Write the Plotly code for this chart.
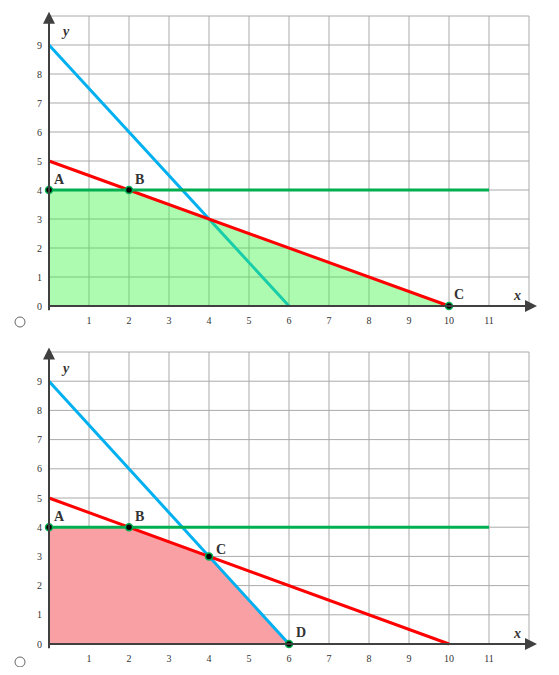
import plotly.graph_objects as go

# -------------------------------------------------------------------
# DATA
# -------------------------------------------------------------------
blue_x = [0, 6]
blue_y = [9, 0]
red_x = [0, 10]
red_y = [5, 0]
green_x = [0, 11]
green_y = [4, 4]

top_region_x = [0, 0, 2, 10, 0]
top_region_y = [0, 4, 4, 0, 0]
top_pts_x = [0, 2, 10]
top_pts_y = [4, 4, 0]
top_pts_lbl = ["A", "B", "C"]

bot_region_x = [0, 0, 2, 4, 6, 0]
bot_region_y = [0, 4, 4, 3, 0, 0]
bot_pts_x = [0, 2, 4, 6]
bot_pts_y = [4, 4, 3, 0]
bot_pts_lbl = ["A", "B", "C", "D"]

x_ticks = list(range(1, 12))
y_ticks = list(range(0, 10))

# -------------------------------------------------------------------
# STYLE
# -------------------------------------------------------------------
# page body has an 8px margin, so the figure is a bit smaller than the window
W, H = 543, 659
BLUE = "#00b0f0"
RED = "#ff0000"
GREEN = "#00b050"
GRID = "#aaaaaa"
AXIS = "#404040"
SERIF = "Liberation Serif"

fig = go.Figure()
shapes = []
annotations = []


def add_panel(xa, ya, region_x, region_y, fill, fill_on_top, pts_x, pts_y, labels, lbl_off):
    xr, yr = xa, ya
    # grid
    for i in range(0, 13):
        shapes.append(dict(type="line", xref=xr, yref=yr, x0=i, x1=i, y0=0, y1=10,
                           line=dict(color=GRID, width=1), layer="below"))
    for j in range(0, 11):
        shapes.append(dict(type="line", xref=xr, yref=yr, x0=0, x1=12, y0=j, y1=j,
                           line=dict(color=GRID, width=1), layer="below"))

    region = go.Scatter(x=region_x, y=region_y, xaxis=xa, yaxis=ya, mode="lines",
                        fill="toself", fillcolor=fill, line=dict(width=0),
                        hoverinfo="skip", showlegend=False)
    if not fill_on_top:
        fig.add_trace(region)
    fig.add_trace(go.Scatter(x=blue_x, y=blue_y, xaxis=xa, yaxis=ya, mode="lines",
                             line=dict(color=BLUE, width=3), showlegend=False))
    if fill_on_top:
        fig.add_trace(region)
    fig.add_trace(go.Scatter(x=red_x, y=red_y, xaxis=xa, yaxis=ya, mode="lines",
                             line=dict(color=RED, width=3), showlegend=False))
    fig.add_trace(go.Scatter(x=green_x, y=green_y, xaxis=xa, yaxis=ya, mode="lines",
                             line=dict(color=GREEN, width=3), showlegend=False))

    # axes with arrows
    annotations.append(dict(x=12.2, y=0, ax=-0.02, ay=0, xref=xr, yref=yr, axref=xr, ayref=yr,
                            text="", showarrow=True, arrowhead=2, arrowsize=1.2,
                            arrowwidth=2, arrowcolor=AXIS))
    annotations.append(dict(x=0, y=10.15, ax=0, ay=-0.2, xref=xr, yref=yr, axref=xr, ayref=yr,
                            text="", showarrow=True, arrowhead=2, arrowsize=1.2,
                            arrowwidth=2, arrowcolor=AXIS))

    fig.add_trace(go.Scatter(x=pts_x, y=pts_y, xaxis=xa, yaxis=ya, mode="markers",
                             marker=dict(color="black", size=7, line=dict(color=GREEN, width=1.5)),
                             cliponaxis=False, showlegend=False))

    for px, py, lb, (dx, dy) in zip(pts_x, pts_y, labels, lbl_off):
        annotations.append(dict(x=px + dx, y=py + dy, xref=xr, yref=yr, text=f"<b>{lb}</b>",
                                showarrow=False, font=dict(family=SERIF, size=14, color="#333333")))
    annotations.append(dict(x=0.42, y=9.45, xref=xr, yref=yr, text="<b><i>y</i></b>",
                            showarrow=False, font=dict(family=SERIF, size=14, color="#333333")))
    annotations.append(dict(x=11.7, y=0.35, xref=xr, yref=yr, text="<b><i>x</i></b>",
                            showarrow=False, font=dict(family=SERIF, size=14, color="#333333")))


add_panel("x", "y", top_region_x, top_region_y, "rgba(60,245,70,0.42)", True,
          top_pts_x, top_pts_y, top_pts_lbl, [(0.25, 0.35), (0.25, 0.35), (0.25, 0.4)])
add_panel("x2", "y2", bot_region_x, bot_region_y, "#f9a0a5", False,
          bot_pts_x, bot_pts_y, bot_pts_lbl, [(0.25, 0.35), (0.25, 0.35), (0.3, 0.25), (0.3, 0.4)])

# radio buttons
for cy in [314, 654]:
    shapes.append(dict(type="circle", xref="paper", yref="paper",
                       x0=7 / W, x1=17 / W, y0=(H - cy - 5) / H, y1=(H - cy + 5) / H,
                       line=dict(color="#666666", width=1), fillcolor="white"))

tick_font = dict(family=SERIF, size=10, color="#333333")
x_common = dict(range=[-0.15, 12.3], domain=[35 / W, 533 / W], tickvals=x_ticks,
                showgrid=False, zeroline=False, showline=False, ticks="",
                tickfont=tick_font, fixedrange=True)
y_common = dict(range=[-0.25, 10.25], tickvals=y_ticks, showgrid=False, zeroline=False,
                showline=False, ticks="", tickfont=tick_font, fixedrange=True)

fig.update_layout(
    width=W,
    height=H,
    margin=dict(l=0, r=0, t=0, b=0),
    plot_bgcolor="white",
    paper_bgcolor="white",
    showlegend=False,
    xaxis=dict(**x_common, anchor="y"),
    yaxis=dict(**y_common, domain=[353.75 / H, 658.25 / H], anchor="x"),
    xaxis2=dict(**x_common, anchor="y2"),
    yaxis2=dict(**y_common, domain=[15.7 / H, 322.3 / H], anchor="x2"),
    shapes=shapes,
    annotations=annotations,
)

fig.write_html("out.html")
